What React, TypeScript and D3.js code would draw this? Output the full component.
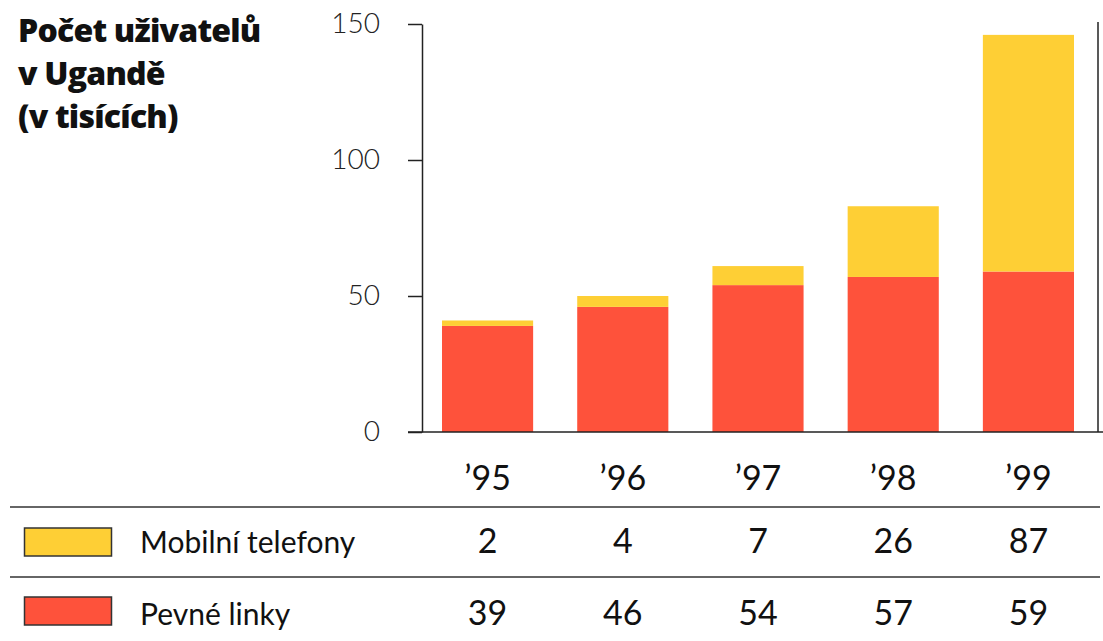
import React, { useEffect, useRef } from 'react';
import * as d3 from 'd3';

const years = ['’95', '’96', '’97', '’98', '’99'];
const mobile = [2, 4, 7, 26, 87];
const fixed = [39, 46, 54, 57, 59];
const yTicks = [0, 50, 100, 150];
const seriesNames = ['Mobilní telefony', 'Pevné linky'];
const titleLines = ['Počet uživatelů', 'v Ugandě', '(v tisících)'];

const YELLOW = '#FECF35';
const RED = '#FE523B';
const INK = '#222';
const FONT = 'Lato, "Open Sans", sans-serif';

const App = () => {
  const ref = useRef<SVGSVGElement | null>(null);

  useEffect(() => {
    if (!ref.current) return;
    const svg = d3.select(ref.current);
    svg.selectAll('*').remove();

    const x = d3
      .scaleBand()
      .domain(years)
      .range([442, 1074])
      .paddingInner(0.326)
      .paddingOuter(0);
    const y = d3.scaleLinear().domain([0, 150]).range([432, 24]);

    // title
    const title = svg
      .append('text')
      .attr('x', 18)
      .attr('y', 42)
      .style('font-family', '"Open Sans", sans-serif')
      .style('font-weight', 800)
      .style('font-size', '32px')
      .style('letter-spacing', '-0.8px')
      .style('fill', '#111');
    titleLines.forEach((t, i) => {
      title
        .append('tspan')
        .attr('x', 18)
        .attr('dy', i === 0 ? 0 : 43)
        .text(t);
    });

    // stacked bars
    const stacked = years.map((yr, i) => ({ yr, fixed: fixed[i], mobile: mobile[i] }));
    const stack = d3.stack<any>().keys(['fixed', 'mobile'])(stacked);
    const colors = [RED, YELLOW];
    stack.forEach((layer, li) => {
      svg
        .append('g')
        .selectAll('rect')
        .data(layer)
        .enter()
        .append('rect')
        .attr('x', (d: any) => x(d.data.yr)!)
        .attr('width', x.bandwidth())
        .attr('y', (d) => y(d[1]))
        .attr('height', (d) => y(d[0]) - y(d[1]))
        .attr('fill', colors[li]);
    });

    // y axis
    const axis = svg
      .append('g')
      .attr('transform', 'translate(422,0)')
      .call(
        d3
          .axisLeft(y)
          .tickValues(yTicks)
          .tickSize(14)
          .tickPadding(28)
          .tickSizeOuter(0)
      );
    axis.select('.domain').attr('stroke', INK).attr('stroke-width', 1.5);
    axis.selectAll('.tick line').attr('stroke', INK).attr('stroke-width', 1.5);
    axis
      .selectAll('.tick text')
      .style('font-family', FONT)
      .style('font-weight', 300)
      .style('font-size', '28px')
      .style('fill', '#222');

    // baseline & right frame
    svg
      .append('line')
      .attr('x1', 408)
      .attr('x2', 1103)
      .attr('y1', y(0))
      .attr('y2', y(0))
      .attr('stroke', INK)
      .attr('stroke-width', 1.5);
    svg
      .append('line')
      .attr('x1', 1098)
      .attr('x2', 1098)
      .attr('y1', 22)
      .attr('y2', y(0))
      .attr('stroke', INK)
      .attr('stroke-width', 1.5);

    // year labels
    const cx = (yr: string) => x(yr)! + x.bandwidth() / 2;
    svg
      .append('g')
      .selectAll('text')
      .data(years)
      .enter()
      .append('text')
      .attr('x', (d) => cx(d))
      .attr('y', 490)
      .attr('text-anchor', 'middle')
      .style('font-family', FONT)
      .style('font-size', '34px')
      .style('fill', '#111')
      .text((d) => d);

    // table rules
    [507, 577].forEach((ly) => {
      svg
        .append('line')
        .attr('x1', 10)
        .attr('x2', 1100)
        .attr('y1', ly)
        .attr('y2', ly)
        .attr('stroke', '#333')
        .attr('stroke-width', 1.5);
    });

    // table rows
    const rows = [
      { name: seriesNames[0], color: YELLOW, values: mobile, top: 528, base: 553 },
      { name: seriesNames[1], color: RED, values: fixed, top: 597, base: 625 },
    ];
    rows.forEach((r) => {
      svg
        .append('rect')
        .attr('x', 24.5)
        .attr('y', r.top)
        .attr('width', 87)
        .attr('height', 28)
        .attr('fill', r.color)
        .attr('stroke', '#333')
        .attr('stroke-width', 1.5);
      svg
        .append('text')
        .attr('x', 140)
        .attr('y', r.base)
        .style('font-family', FONT)
        .style('font-size', '30px')
        .style('fill', '#111')
        .text(r.name);
      svg
        .append('g')
        .selectAll('text')
        .data(r.values)
        .enter()
        .append('text')
        .attr('x', (_, i) => cx(years[i]))
        .attr('y', r.base)
        .attr('text-anchor', 'middle')
        .style('font-family', FONT)
        .style('font-size', '34px')
        .style('fill', '#111')
        .text((d) => `${d}`);
    });
  }, []);

  return (
    <div style={{ position: 'absolute', left: 0, top: 0, background: '#fff' }}>
      <svg ref={ref} width={1103} height={641} />
    </div>
  );
};

export default App;
